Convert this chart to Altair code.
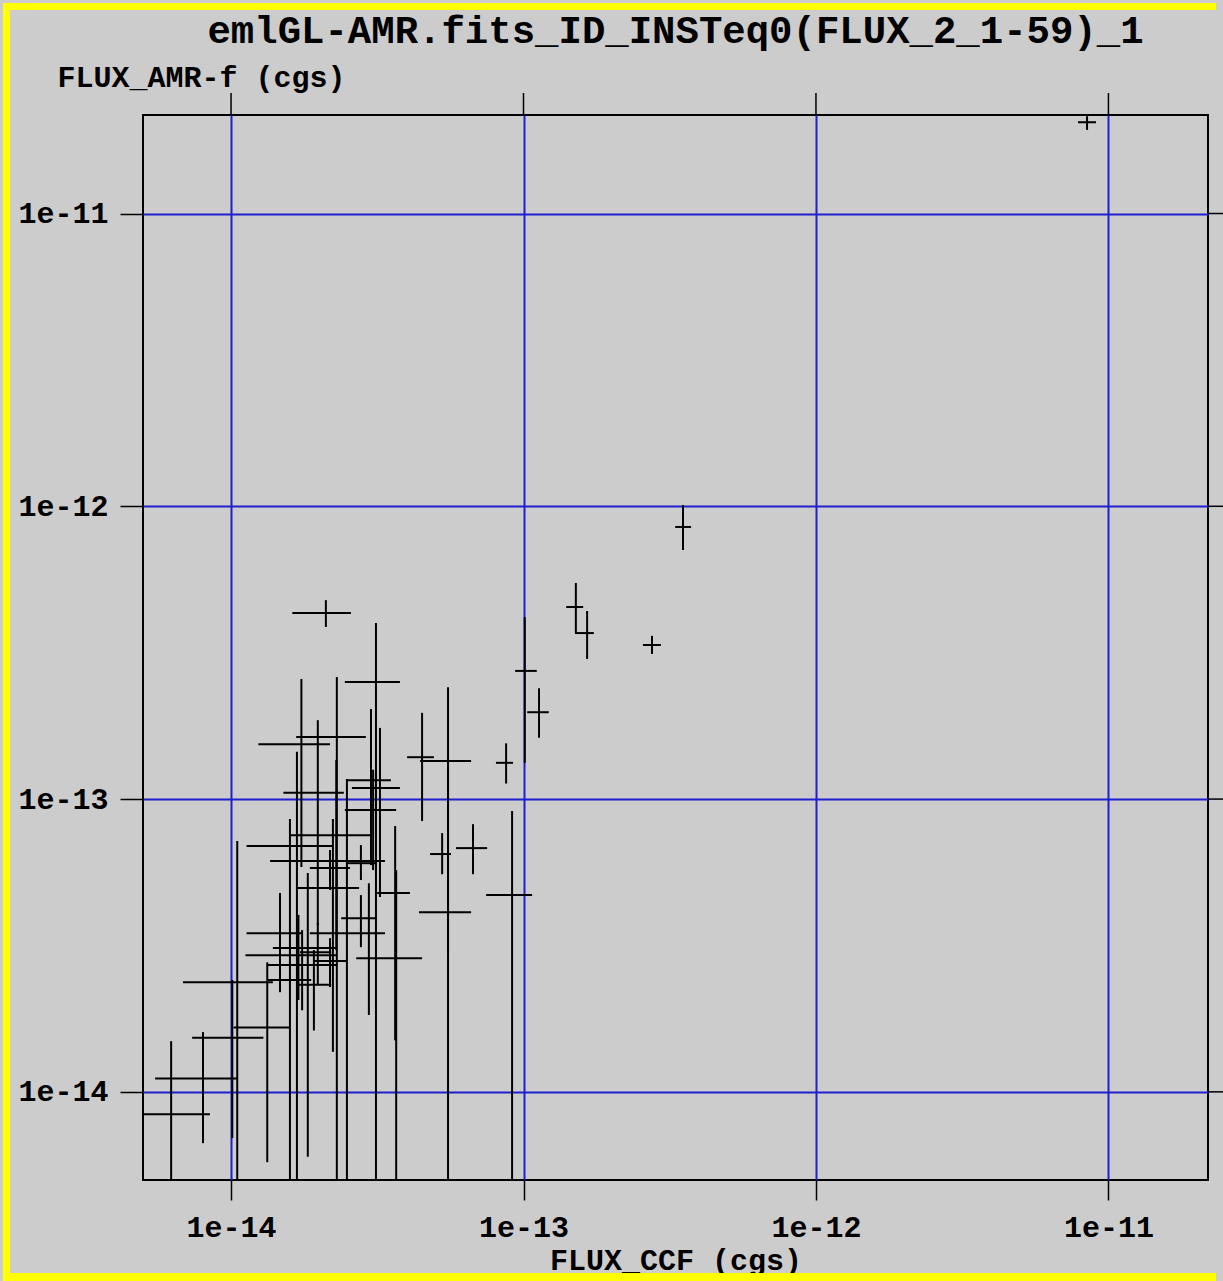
import altair as alt
import pandas as pd

# ---- data (cgs fluxes) ----
flux_ccf = [8.45e-12, 3.51e-13, 2.75e-13, 1.51e-13, 1.65e-13, 1.01e-13, 1.13e-13, 8.72e-14,
            4.50e-14, 5.52e-14, 5.52e-14, 5.27e-14, 6.72e-14, 9.14e-14, 2.11e-14, 3.13e-14,
            2.30e-14, 1.74e-14, 1.98e-14, 3.01e-14, 3.23e-14, 3.06e-14, 2.29e-14, 1.68e-14,
            2.49e-14, 2.78e-14, 2.18e-14, 2.23e-14, 3.64e-14, 2.78e-14, 2.96e-14, 1.47e-14,
            1.83e-14, 1.70e-14, 3.67e-14, 2.18e-14, 1.75e-14, 1.59e-14, 1.92e-14, 1.05e-14,
            1.33e-14, 1.01e-14, 8.02e-15, 6.24e-15, 1.98e-14]
flux_ccf_lo = [7.87e-12, 3.30e-13, 2.56e-13, 1.40e-13, 1.50e-13, 9.36e-14, 1.03e-13, 8.05e-14,
               4.00e-14, 4.43e-14, 4.39e-14, 4.79e-14, 5.88e-14, 7.45e-14, 1.62e-14, 2.45e-14,
               1.67e-14, 1.24e-14, 1.51e-14, 2.49e-14, 2.59e-14, 2.45e-14, 1.59e-14, 1.13e-14,
               1.36e-14, 2.49e-14, 1.86e-14, 1.68e-14, 3.16e-14, 2.38e-14, 1.86e-14, 1.13e-14,
               1.39e-14, 1.12e-14, 2.68e-14, 1.91e-14, 1.33e-14, 1.33e-14, 1.68e-14, 6.85e-15,
               1.02e-14, 7.36e-15, 5.50e-15, 4.0e-15, 1.72e-14]
flux_ccf_hi = [9.07e-12, 3.74e-13, 2.95e-13, 1.60e-13, 1.74e-13, 1.11e-13, 1.22e-13, 9.21e-14,
               4.94e-14, 6.62e-14, 6.62e-14, 5.65e-14, 7.51e-14, 1.07e-13, 2.57e-14, 3.78e-14,
               2.89e-14, 2.18e-14, 2.43e-14, 3.52e-14, 3.78e-14, 3.67e-14, 2.99e-14, 2.23e-14,
               3.36e-14, 3.11e-14, 2.55e-14, 2.74e-14, 4.09e-14, 3.13e-14, 3.36e-14, 1.75e-14,
               2.30e-14, 2.30e-14, 4.50e-14, 2.49e-14, 2.30e-14, 1.88e-14, 2.20e-14, 1.39e-14,
               1.59e-14, 1.29e-14, 1.05e-14, 8.47e-15, 2.20e-14]
flux_amr = [2.05e-11, 8.50e-13, 3.36e-13, 4.53e-13, 3.69e-13, 2.74e-13, 1.98e-13, 1.33e-13,
            1.39e-13, 1.35e-13, 4.11e-14, 6.49e-14, 6.80e-14, 4.70e-14, 4.32e-13, 2.51e-13,
            1.63e-13, 1.54e-13, 1.05e-13, 1.16e-13, 1.09e-13, 9.17e-14, 7.53e-14, 6.91e-14,
            6.14e-14, 6.04e-14, 5.81e-14, 4.97e-14, 4.78e-14, 3.92e-14, 3.48e-14, 3.48e-14,
            3.10e-14, 2.93e-14, 2.86e-14, 2.80e-14, 2.71e-14, 2.41e-14, 2.32e-14, 2.37e-14,
            1.66e-14, 1.53e-14, 1.11e-14, 8.39e-15, 3.00e-14]
flux_amr_lo = [1.93e-11, 7.09e-13, 3.13e-13, 3.69e-13, 3.01e-13, 1.33e-13, 1.62e-13, 1.13e-13,
               8.41e-14, 3.0e-14, 3.0e-15, 5.54e-14, 5.54e-14, 3.0e-15, 3.87e-13, 3.0e-15,
               3.0e-15, 5.86e-14, 3.71e-14, 5.95e-14, 4.63e-14, 5.72e-14, 3.05e-14, 3.0e-15,
               3.0e-15, 5.29e-14, 4.89e-14, 1.37e-14, 1.50e-14, 3.12e-14, 1.83e-14, 2.19e-14,
               6.0e-15, 2.06e-14, 3.0e-15, 2.28e-14, 1.90e-14, 3.0e-15, 1.62e-14, 3.0e-15,
               5.75e-15, 6.95e-15, 6.68e-15, 3.0e-15, 2.32e-14]
flux_amr_hi = [2.15e-11, 1.01e-12, 3.61e-13, 5.47e-13, 4.39e-13, 4.18e-13, 2.39e-13, 1.55e-13,
               1.97e-13, 2.41e-13, 1.36e-13, 7.65e-14, 8.21e-14, 9.10e-14, 4.78e-13, 3.99e-13,
               2.61e-13, 2.57e-13, 1.86e-13, 2.03e-13, 1.75e-13, 1.26e-13, 1.36e-13, 1.45e-13,
               1.17e-13, 6.97e-14, 6.70e-14, 8.55e-14, 8.09e-14, 4.70e-14, 5.16e-14, 4.78e-14,
               5.59e-14, 4.02e-14, 5.72e-14, 3.35e-14, 3.57e-14, 8.55e-14, 3.05e-14, 7.19e-14,
               2.77e-14, 2.41e-14, 1.60e-14, 1.49e-14, 3.77e-14]
tick_values = [1e-14, 1e-13, 1e-12, 1e-11]
x_domain = [5.0e-15, 2.19e-11]
y_domain = [5.0e-15, 2.17e-11]

title_text = "emlGL-AMR.fits_ID_INSTeq0(FLUX_2_1-59)_1"

df = pd.DataFrame({
    "x": flux_ccf, "xlo": flux_ccf_lo, "xhi": flux_ccf_hi,
    "y": flux_amr, "ylo": flux_amr_lo, "yhi": flux_amr_hi,
})
ticks = pd.DataFrame({"v": tick_values})
one = pd.DataFrame({"a": [0]})

FONT = "Liberation Mono"
BLUE = "#1f1fd0"
YELLOW = "#ffff00"
W, H = 1065, 1065
PAD_L, PAD_T = 143, 115

xscale = alt.Scale(type="log", domain=x_domain, nice=False)
yscale = alt.Scale(type="log", domain=y_domain, nice=False)
lab = "'1e-' + round(-log(datum.value)/LN10)"

xaxis = alt.Axis(values=tick_values, labelExpr=lab, title="FLUX_CCF (cgs)",
                 grid=True, gridColor=BLUE, gridWidth=2, gridOpacity=1,
                 domain=False, ticks=True, tickSize=20, tickColor="black", tickWidth=1.5,
                 labelFont=FONT, labelFontSize=30, labelFontWeight="bold", labelColor="black",
                 labelPadding=27, labelBaseline="middle", labelFlush=False,
                 titleFont=FONT, titleFontSize=30, titleFontWeight="bold", titleColor="black",
                 titleY=80, titleBaseline="middle")
yaxis = alt.Axis(values=tick_values, labelExpr=lab, title="FLUX_AMR-f (cgs)",
                 grid=True, gridColor=BLUE, gridWidth=2, gridOpacity=1,
                 domain=False, ticks=True, tickSize=23, tickColor="black", tickWidth=1.5,
                 labelFont=FONT, labelFontSize=30, labelFontWeight="bold", labelColor="black",
                 labelPadding=12, labelFlush=False,
                 titleFont=FONT, titleFontSize=30, titleFontWeight="bold", titleColor="black",
                 titleAngle=0, titleAlign="left", titleBaseline="middle",
                 titleX=57 - PAD_L, titleY=77 - PAD_T)

base = alt.Chart(df)
hbars = base.mark_rule(color="black", strokeWidth=2, clip=True).encode(
    x=alt.X("xlo:Q", scale=xscale, axis=xaxis),
    x2="xhi:Q",
    y=alt.Y("y:Q", scale=yscale, axis=yaxis),
)
vbars = base.mark_rule(color="black", strokeWidth=2, clip=True).encode(
    x=alt.X("x:Q", scale=xscale, axis=xaxis),
    y=alt.Y("ylo:Q", scale=yscale, axis=yaxis),
    y2="yhi:Q",
)
top_ticks = alt.Chart(ticks).mark_rule(color="black", strokeWidth=1.5, clip=False).encode(
    x=alt.X("v:Q", scale=xscale, axis=xaxis),
    y=alt.value(-22), y2=alt.value(0),
)
right_ticks = alt.Chart(ticks).mark_rule(color="black", strokeWidth=1.5, clip=False).encode(
    y=alt.Y("v:Q", scale=yscale, axis=yaxis),
    x=alt.value(W), x2=alt.value(W + 20),
)
title = alt.Chart(one).mark_text(font=FONT, fontSize=39, fontWeight="bold", color="black",
                                 align="center", baseline="middle", clip=False).encode(
    x=alt.value(675.5 - PAD_L), y=alt.value(31 - PAD_T), text=alt.value(title_text),
)

# yellow frame on the left, top and bottom edges of the picture
L, T, B, R = 6.5 - PAD_L, 6.5 - PAD_T, 1277 - PAD_T, 1216 - PAD_L
border_left = alt.Chart(one).mark_rule(color=YELLOW, strokeWidth=7, clip=False).encode(
    x=alt.value(L), y=alt.value(T - 3.5), y2=alt.value(B + 4))
border_top = alt.Chart(one).mark_rule(color=YELLOW, strokeWidth=7, clip=False).encode(
    x=alt.value(L - 3.5), x2=alt.value(R), y=alt.value(T))
border_bottom = alt.Chart(one).mark_rule(color=YELLOW, strokeWidth=8, clip=False).encode(
    x=alt.value(L - 3.5), x2=alt.value(R), y=alt.value(B))

chart = alt.layer(border_left, border_top, border_bottom,
                  hbars, vbars, top_ticks, right_ticks, title).properties(
    width=W, height=H,
    autosize=alt.AutoSizeParams(type="none"),
    padding={"left": PAD_L, "top": PAD_T, "right": 1223 - PAD_L - W, "bottom": 1281 - PAD_T - H},
    background="#cccccc",
).configure_view(stroke="black", strokeWidth=2, fill="#cccccc")

chart.save("out.html", embed_options={"renderer": "svg", "actions": False})
